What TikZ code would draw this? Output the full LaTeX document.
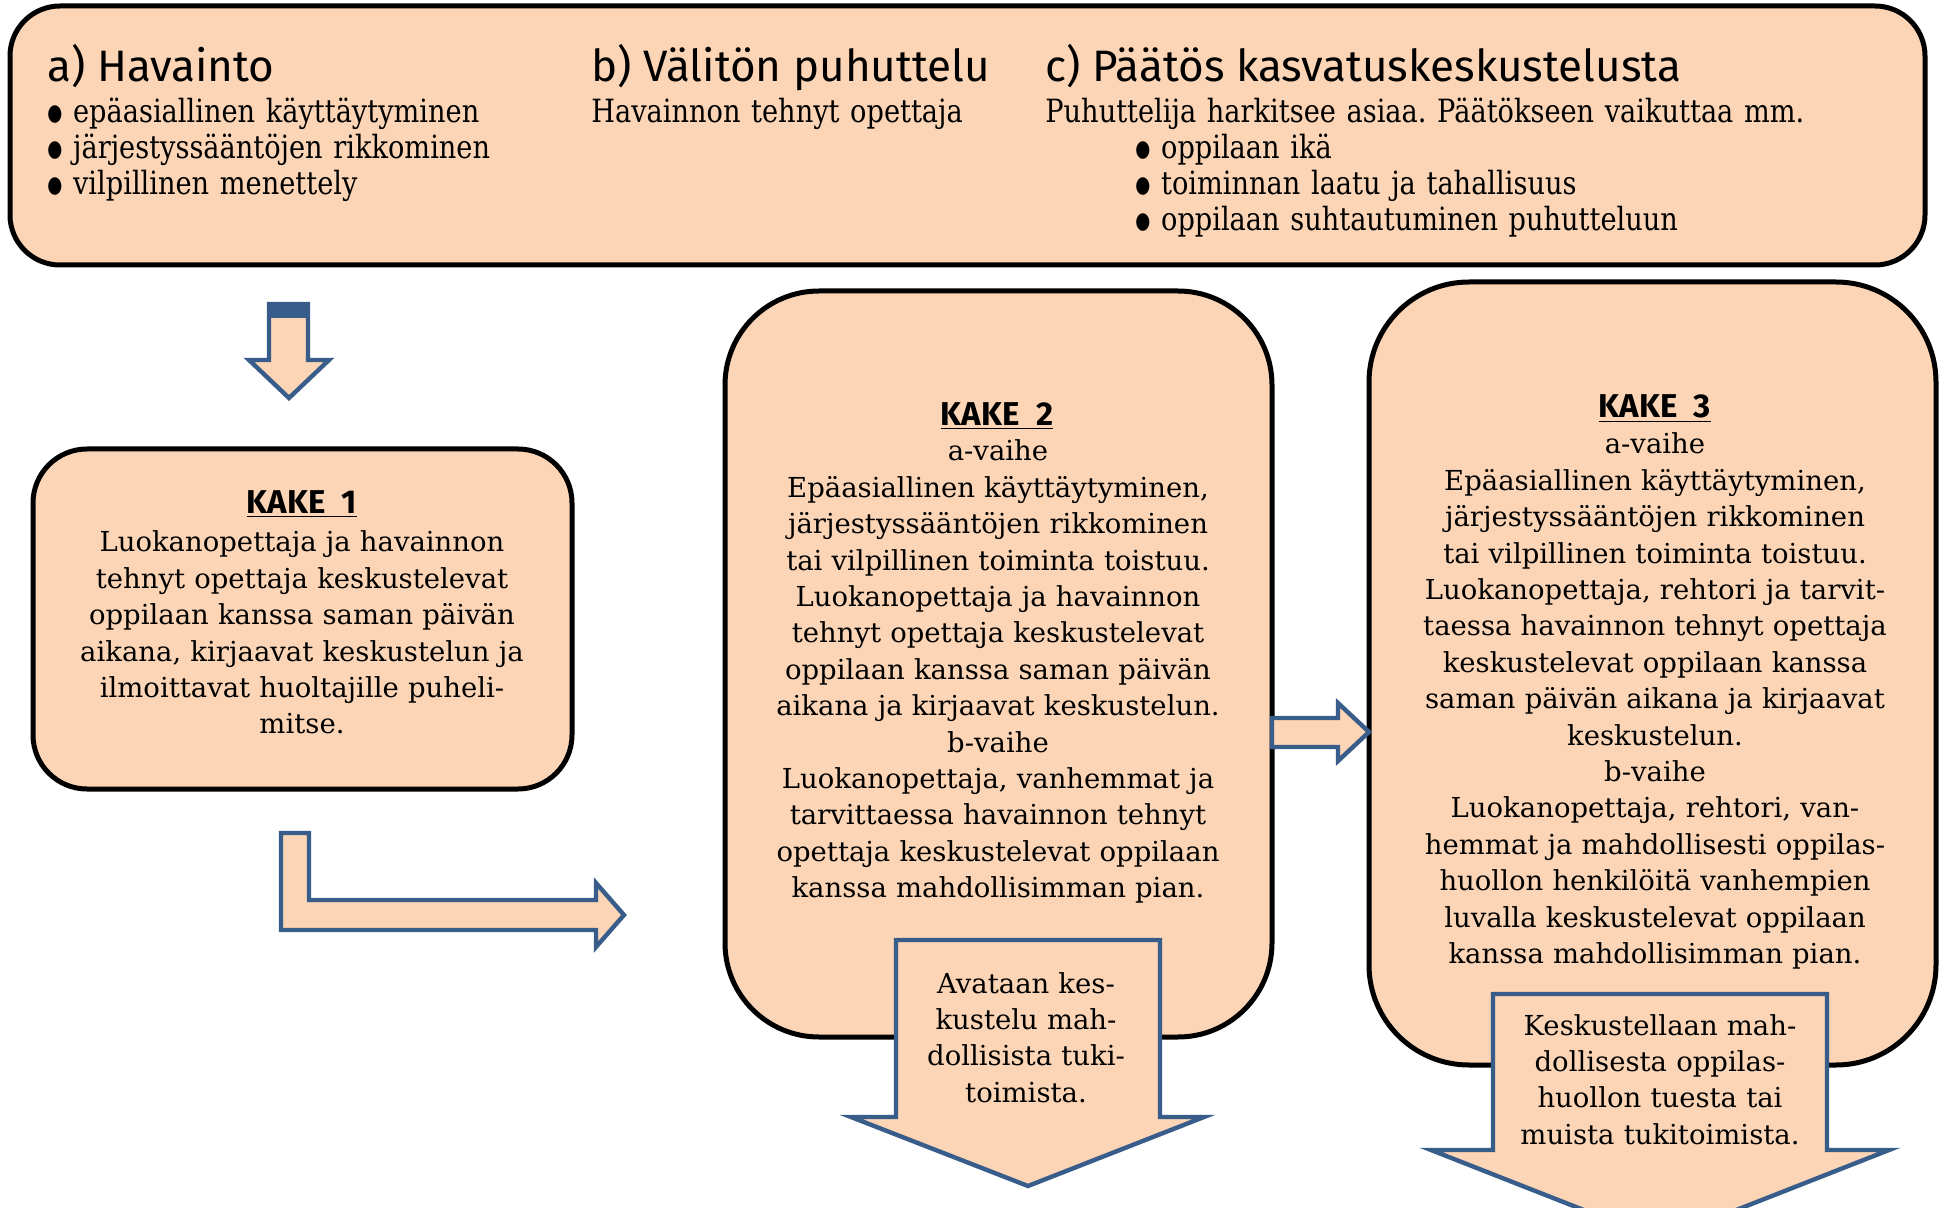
\documentclass[tikz,border=0pt]{standalone}
\usepackage{fontspec}
\setmainfont{DejaVu Serif}
\newfontfamily\headfont{Fira Sans}
\newfontfamily\topfont[FakeStretch=0.85]{DejaVu Serif}
\newfontfamily\bulletfont[FakeStretch=0.75]{DejaVu Sans}
\newcommand{\blt}{\raisebox{1pt}{\bulletfont\fontsize{11.5}{18}\selectfont ●}}
\frenchspacing
\usepackage{tikz}
\usetikzlibrary{positioning, calc}
\definecolor{PeachFill}{RGB}{251,213,181}
\definecolor{ArrowBlue}{RGB}{56,93,138}
\tikzstyle{panel} = [draw=black, line width=2.5pt, fill=PeachFill]
\tikzstyle{blockarrow} = [draw=ArrowBlue, line width=2.2pt, fill=PeachFill, line join=miter]
\tikzstyle{heading} = [font=\headfont\fontsize{22}{26}\selectfont, inner sep=0pt]
\tikzstyle{topbody} = [font=\topfont\fontsize{16}{18}\selectfont, align=left, text width=330pt, inner sep=0pt]
\tikzstyle{kakehead} = [font=\headfont\bfseries\fontsize{16.5}{18}\selectfont, inner sep=0pt]
\tikzstyle{kakebody} = [font=\fontsize{13.75}{18.2}\selectfont, align=center, inner sep=0pt]

\begin{document}
\begin{tikzpicture}[x=0.5pt, y=-0.5pt]
\useasboundingbox (0,0) rectangle (1939,1208);

% boxes
\node[panel, rounded corners=25pt, minimum width=957.5pt, minimum height=129.5pt] (top) at (967.5,135.5) {};
\node[panel, rounded corners=27pt, minimum width=269.5pt, minimum height=170pt] (k1) at (302.5,619) {};
\node[panel, rounded corners=47pt, minimum width=273.5pt, minimum height=373pt] (k2) at (998.5,664) {};
\node[panel, rounded corners=50pt, minimum width=283.5pt, minimum height=391.5pt] (k3) at (1652.5,673.5) {};

% block arrows
\draw[blockarrow] (269,304) -- (308,304) -- (308,360) -- (329,360) -- (289,398) -- (249,360) -- (269,360) -- cycle;
\fill[ArrowBlue] (268,303) rectangle (309,318);
\draw[blockarrow] (281,833) -- (309,833) -- (309,900) -- (596,900) -- (596,883) -- (624,915)
  -- (596,947) -- (596,930) -- (281,930) -- cycle;
\draw[blockarrow] (1272,718) -- (1338,718) -- (1338,703) -- (1369,732) -- (1338,761) -- (1338,747) -- (1272,747) -- cycle;
\draw[blockarrow] (896,940) -- (1160,940) -- (1160,1117) -- (1204,1117) -- (1028,1186) -- (851,1117) -- (896,1117) -- cycle;
\draw[blockarrow] (1493,994) -- (1827,994) -- (1827,1150) -- (1889,1150) -- (1660,1240) -- (1431,1150) -- (1493,1150) -- cycle;

% top panel texts
\node[heading, anchor=base west] (ha) at (47,82) {a) Havainto};
\node[topbody, anchor=base west] (hab) at (47,123) {\blt\ epäasiallinen käyttäytyminen\\
  \blt\ järjestyssääntöjen rikkominen\\ \blt\ vilpillinen menettely};
\node[heading, anchor=base west] (hb) at (591,82) {b) Välitön puhuttelu};
\node[topbody, anchor=base west] (hbb) at (591,123) {Havainnon tehnyt opettaja};
\node[heading, anchor=base west] (hc) at (1045,82) {c) Päätös kasvatuskeskustelusta};
\node[topbody, anchor=base west, text width=440pt] (hcb) at (1045,123) {Puhuttelija harkitsee asiaa. Päätökseen vaikuttaa mm.};
\node[topbody, anchor=base west] (hcl) at (1135,159) {\blt\ oppilaan ikä\\
  \blt\ toiminnan laatu ja tahallisuus\\ \blt\ oppilaan suhtautuminen puhutteluun};

% KAKE 1
\node[kakehead, anchor=base] (k1h) at (302,514) {\underline{KAKE\enspace 1}};
\node[kakebody, anchor=base, text width=262pt] (k1b) at (302,552) {Luokanopettaja ja havainnon\\
  tehnyt opettaja keskustelevat\\ oppilaan kanssa saman päivän\\ aikana, kirjaavat keskustelun ja\\
  ilmoittavat huoltajille puheli-\\ mitse.};

% KAKE 2
\node[kakehead, anchor=base] (k2h) at (997,426) {\underline{KAKE\enspace 2}};
\node[kakebody, anchor=base, text width=268pt] (k2b) at (998,461) {a-vaihe\\
  Epäasiallinen käyttäytyminen,\\ järjestyssääntöjen rikkominen\\ tai vilpillinen toiminta toistuu.\\
  Luokanopettaja ja havainnon\\ tehnyt opettaja keskustelevat\\ oppilaan kanssa saman päivän\\
  aikana ja kirjaavat keskustelun.\\ b-vaihe\\ Luokanopettaja, vanhemmat ja\\
  tarvittaessa havainnon tehnyt\\ opettaja keskustelevat oppilaan\\ kanssa mahdollisimman pian.};
\node[kakebody, anchor=base, text width=128pt] (k2a) at (1026,993) {Avataan kes-\\ kustelu mah-\\
  dollisista tuki-\\ toimista.};

% KAKE 3
\node[kakehead, anchor=base] (k3h) at (1655,418) {\underline{KAKE\enspace 3}};
\node[kakebody, anchor=base, text width=280pt] (k3b) at (1655,454) {a-vaihe\\
  Epäasiallinen käyttäytyminen,\\ järjestyssääntöjen rikkominen\\ tai vilpillinen toiminta toistuu.\\
  Luokanopettaja, rehtori ja tarvit-\\ taessa havainnon tehnyt opettaja\\ keskustelevat oppilaan kanssa\\
  saman päivän aikana ja kirjaavat\\ keskustelun.\\ b-vaihe\\ Luokanopettaja, rehtori, van-\\
  hemmat ja mahdollisesti oppilas-\\ huollon henkilöitä vanhempien\\ luvalla keskustelevat oppilaan\\
  kanssa mahdollisimman pian.};
\node[kakebody, anchor=base, text width=165pt] (k3a) at (1660,1035) {Keskustellaan mah-\\
  dollisesta oppilas-\\ huollon tuesta tai\\ muista tukitoimista.};
\end{tikzpicture}
\end{document}
